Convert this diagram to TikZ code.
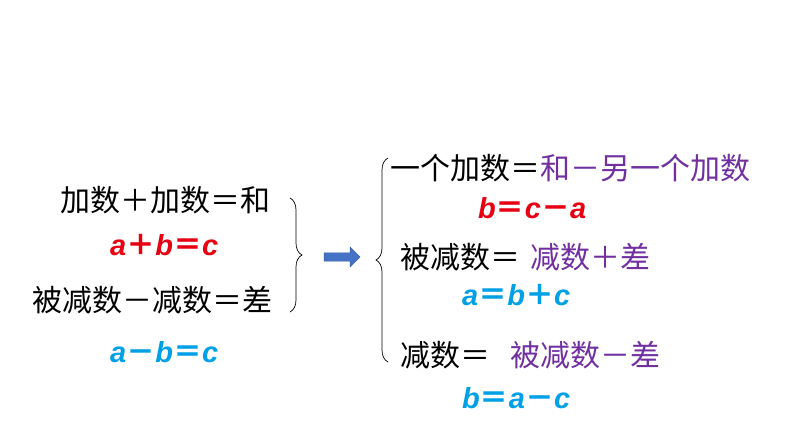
\documentclass[tikz,border=0pt]{standalone}
\usepackage{fontspec}
\setmainfont{Liberation Sans}
\newfontfamily\cjk{Noto Sans CJK SC}
\usetikzlibrary{positioning,shapes.arrows,decorations.pathreplacing}
\definecolor{eqred}{RGB}{230,0,18}
\definecolor{eqblue}{RGB}{0,160,230}
\definecolor{eqpurple}{RGB}{112,48,160}
\definecolor{arrowblue}{RGB}{68,114,196}
\tikzset{
	word/.style={anchor=west, inner sep=0pt, font=\cjk\fontsize{30}{34}\selectfont},
	formula/.style={anchor=west, inner sep=0pt, font=\cjk\fontsize{29}{34}\selectfont\bfseries},
	brace/.style={decorate, decoration={brace, amplitude=12pt}, line width=0.7pt}}
\newcommand{\var}[1]{{\fontspec{Liberation Sans}\bfseries\itshape #1}}

\begin{document}
\begin{tikzpicture}[x=1pt,y=-1pt]
	\useasboundingbox (0,0) rectangle (794,447);

	\node (AddLeft) [word] at (60,200) {加数＋加数＝和};
	\node (AddFormula) [formula, text=eqred] at (110,245) {\var{a}＋\var{b}＝\var{c}};
	\node (SubLeft) [word] at (32,300) {被减数－减数＝差};
	\node (SubFormula) [formula, text=eqblue] at (110,352) {\var{a}－\var{b}＝\var{c}};

	\coordinate (BraceTop) at (290,198);
	\coordinate (BraceBottom) at (290,312);
	\draw [brace] (BraceTop) -- (BraceBottom);

	\node (Arrow) [single arrow, draw=arrowblue!80!black, fill=arrowblue, minimum height=36pt, minimum width=20pt, single arrow head extend=3pt, inner sep=2pt] at (340,257) {};

	\coordinate (RightTop) at (388,158);
	\coordinate (RightBottom) at (388,362);
	\draw [brace] (RightBottom) -- (RightTop);

	\node (Addend) [word] at (390,168) {一个加数＝\textcolor{eqpurple}{和－另一个加数}};
	\node (AddendFormula) [formula, text=eqred] at (478,208) {\var{b}＝\var{c}－\var{a}};
	\node (Minuend) [word] at (400,257) {被减数＝};
	\node (MinuendRule) [word, text=eqpurple] at (530,257) {减数＋差};
	\node (MinuendFormula) [formula, text=eqblue] at (462,295) {\var{a}＝\var{b}＋\var{c}};
	\node (Subtrahend) [word] at (400,355) {减数＝};
	\node (SubtrahendRule) [word, text=eqpurple] at (510,355) {被减数－差};
	\node (SubtrahendFormula) [formula, text=eqblue] at (462,398) {\var{b}＝\var{a}－\var{c}};
\end{tikzpicture}
\end{document}
